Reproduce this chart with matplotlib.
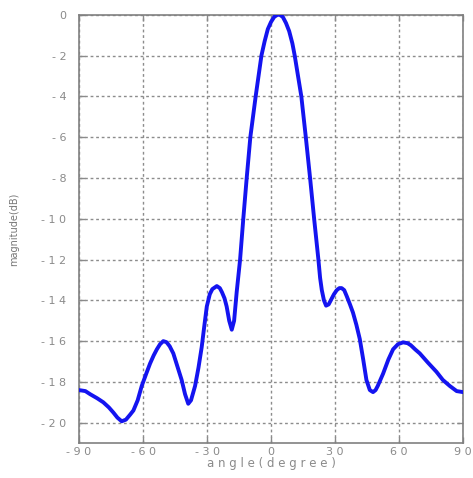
import matplotlib
matplotlib.use("Agg")
import matplotlib.pyplot as plt

# beam pattern
angle = [-90, -87, -84.8, -81.5, -78.6, -76, -73.9, -72, -70, -68, -66, -64.5,
         -62.5, -60.6, -58.5, -56.7, -55, -53.5, -52, -50.5, -49, -47.5, -45.8,
         -44, -41.9, -40.3, -38.8, -37.5, -35.6, -34, -32.5, -31.2, -30.1, -28.7,
         -27.5, -25.4, -24, -23, -21.8, -20.8, -19.6, -18.4, -17.3, -16.1, -15.3,
         -14.5, -13, -11.4, -9.7, -7.2, -4.5, -3, -1.5, 0, 1.5, 3, 4.1, 5.5, 7,
         8.5, 10, 11.1, 14.2, 16.3, 18.3, 20.2, 22.2, 23, 23.8, 24.8, 25.8, 27,
         28, 29.5, 30.8, 32, 33.1, 34.3, 35.5, 37, 38.4, 40, 41.6, 43.2, 44.7,
         46.3, 47.8, 49, 50, 52.5, 55, 57.2, 59.5, 61.9, 64, 65.5, 67.5, 69.7,
         73.5, 77.5, 80.5, 83.8, 87, 90]
mag = [-18.4, -18.45, -18.6, -18.8, -19.0, -19.25, -19.5, -19.75, -19.93, -19.85,
       -19.6, -19.4, -18.9, -18.2, -17.6, -17.1, -16.7, -16.4, -16.15, -16.0,
       -16.05, -16.25, -16.6, -17.2, -17.9, -18.6, -19.07, -18.9, -18.2, -17.3,
       -16.3, -15.2, -14.3, -13.7, -13.45, -13.3, -13.4, -13.6, -13.9, -14.3,
       -15.0, -15.44, -15.0, -13.6, -12.8, -12.0, -10.0, -8.0, -6.0, -4.0, -2.0,
       -1.3, -0.7, -0.35, -0.1, 0, 0, -0.1, -0.4, -0.8, -1.4, -2.0, -4.0, -6.0,
       -8.0, -10.0, -12.0, -12.9, -13.5, -14.0, -14.26, -14.2, -14.0, -13.7,
       -13.5, -13.4, -13.4, -13.5, -13.8, -14.2, -14.6, -15.2, -15.9, -16.9,
       -17.9, -18.4, -18.5, -18.4, -18.2, -17.6, -16.9, -16.4, -16.15, -16.06,
       -16.1, -16.2, -16.4, -16.6, -17.05, -17.5, -17.9, -18.2, -18.45, -18.5]

xticks = [-90, -60, -30, 0, 30, 60, 90]
yticks = [0, -2, -4, -6, -8, -10, -12, -14, -16, -18, -20]


def spaced(v):
    return " ".join(str(v))


grey = "#8a8a8a"
fig = plt.figure(figsize=(4.73, 4.78), dpi=100)
ax = fig.add_axes([0.167, 0.073, 0.812, 0.896])

ax.plot(angle, mag, color="#1414f0", lw=2.8, solid_capstyle="round",
        solid_joinstyle="round", zorder=3)

ax.set_xlim(-90, 90)
ax.set_ylim(-21, 0)
ax.set_xticks(xticks)
ax.set_xticklabels([spaced(v) for v in xticks])
ax.set_yticks(yticks)
ax.set_yticklabels([spaced(v) for v in yticks])
ax.tick_params(direction="in", length=4, width=1, colors=grey, labelsize=8,
               top=True, right=True)
ax.tick_params(axis="y", pad=9)
ax.tick_params(axis="x", pad=3)
for s in ax.spines.values():
    s.set_color("#808080")
    s.set_linewidth(1.2)

# dotted grid
ax.grid(True, color="#8c8c8c", linestyle=(0, (2, 2)), linewidth=1.0, zorder=1)

ax.set_xlabel("a n g l e ( d e g r e e )", color=grey, fontsize=8.5, labelpad=0)
ax.set_ylabel("magnitude(dB)", color="#777777", fontsize=7, labelpad=16)

fig.savefig("out.png", dpi=100)
